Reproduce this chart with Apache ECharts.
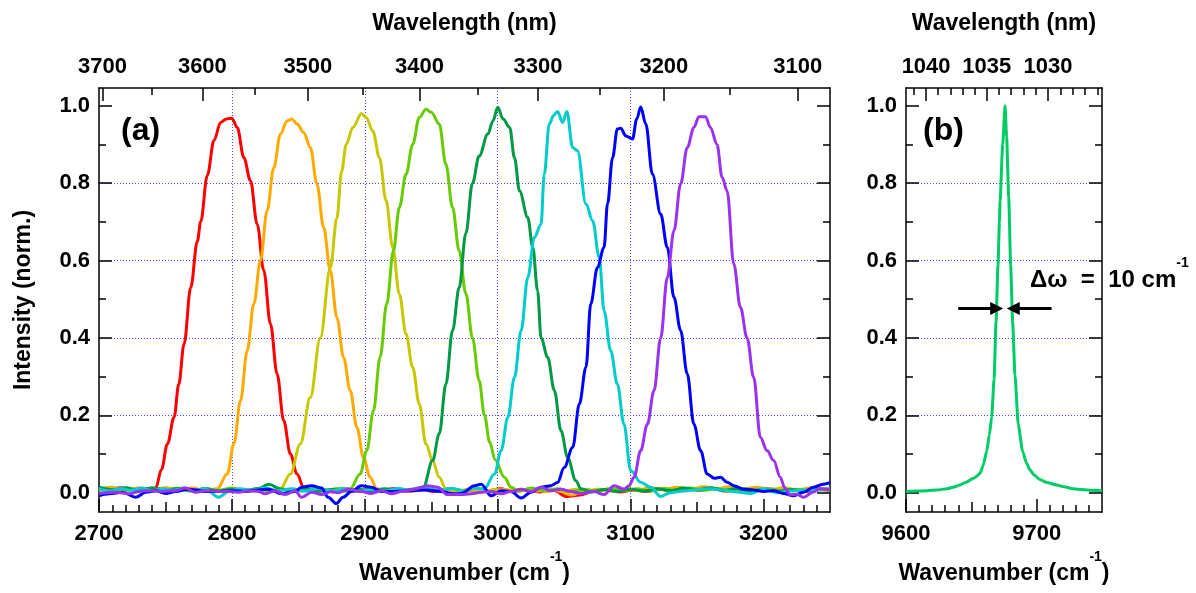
<!DOCTYPE html>
<html><head><meta charset="utf-8">
<script src="https://cdn.jsdelivr.net/npm/echarts@6/dist/echarts.min.js"></script>
<style>html,body{margin:0;padding:0;background:#fff}#c{width:1196px;height:593px}</style>
</head><body><div id="c"></div>
<script>
const FONT = '"Liberation Sans", Arial, sans-serif';

// ---- tick values ----
const aWnMajor = [2700, 2800, 2900, 3000, 3100, 3200];
const aWnMedium = [2750, 2850, 2950, 3050, 3150];
const aNmMajor = [3700, 3600, 3500, 3400, 3300, 3200, 3100];
const aNmMinor = [3650, 3550, 3450, 3350, 3250, 3150];
const bWnMajor = [9600, 9700];
const bWnMedium = [9650];
const bNmMajor = [1040, 1035, 1030];
const bNmMinor = [1041, 1039, 1038, 1037, 1036, 1034, 1033, 1032, 1031, 1029, 1028, 1027, 1026];
const yMajor = [0, 0.2, 0.4, 0.6, 0.8, 1.0];
const yMinor = [0.1, 0.3, 0.5, 0.7, 0.9];

// ---- series data, panel (a): [wavenumber, intensity] ----
const redData = [[2700,0.012],[2708,0.006],[2716,0.013],[2724,0.007],[2732,0.011],[2738,0.008],[2742.7,0.012],[2747,0.06],[2751.5,0.126],[2756.5,0.195],[2760,0.28],[2764,0.384],[2769,0.53],[2774,0.65],[2776.5,0.70],[2781.5,0.82],[2786.5,0.91],[2791.5,0.957],[2796,0.966],[2800,0.968],[2804,0.944],[2809,0.866],[2814,0.806],[2819,0.694],[2824,0.574],[2829,0.436],[2834,0.307],[2839,0.186],[2844,0.10],[2849,0.048],[2854,0.014],[2860,0.004],[2868,0.009],[2876,0.002],[2885,0.008],[2894,0.003],[2903,0.009],[2912,0.005],[2922,0.011],[2932,0.004],[2942,0.009],[2952,0.003],[2962,0.008],[2972,0.001],[2982,0.007],[2992,0.004],[3002,0.01],[3012,0.003],[3022,0.007],[3032,0.002],[3042,0.006],[3052,-0.01],[3062,-0.006],[3072,0.004],[3082,0.008],[3092,0.002],[3102,0.007],[3112,0.003],[3122,0.009],[3132,0.004],[3142,0.011],[3152,0.006],[3162,0.01],[3172,0.004],[3182,0.009],[3192,0.005],[3202,0.01],[3212,0.004],[3222,0.008],[3232,0.003],[3240,0.009],[3250,0.006]];
const orangeData = [[2700,0.009],[2710,0.014],[2720,0.006],[2730,0.012],[2740,0.008],[2750,0.013],[2760,0.007],[2770,0.012],[2780,0.006],[2789,0.01],[2796.5,0.048],[2801.5,0.126],[2806.5,0.238],[2811.5,0.367],[2816.5,0.488],[2821.5,0.60],[2826.5,0.729],[2831.5,0.84],[2836.5,0.927],[2841.5,0.961],[2845,0.966],[2849,0.953],[2854,0.931],[2859,0.892],[2864,0.797],[2869,0.686],[2874,0.574],[2879,0.453],[2884,0.35],[2889,0.264],[2894,0.169],[2899,0.091],[2904,0.04],[2909,0.01],[2916,0.004],[2925,0.01],[2935,0.003],[2945,0.009],[2955,0.004],[2965,0.011],[2975,0.005],[2985,0.009],[2995,0.002],[3005,0.008],[3015,0.004],[3025,0.01],[3035,0.003],[3045,0.007],[3055,-0.006],[3065,0.003],[3075,0.009],[3085,0.004],[3095,0.01],[3105,0.006],[3115,0.013],[3125,0.008],[3135,0.014],[3145,0.009],[3155,0.015],[3165,0.01],[3175,0.016],[3185,0.01],[3195,0.014],[3205,0.008],[3215,0.013],[3225,0.007],[3235,0.012],[3250,0.009]];
const yellowData = [[2700,0.006],[2710,0.011],[2720,0.005],[2730,0.01],[2740,0.004],[2750,0.009],[2760,0.012],[2770,0.005],[2780,0.01],[2790,0.004],[2800,0.009],[2810,0.003],[2820,0.008],[2830,0.004],[2836.5,0.01],[2844,0.048],[2851.5,0.126],[2859,0.246],[2866.5,0.40],[2874,0.58],[2879,0.71],[2882.5,0.83],[2886,0.90],[2891,0.944],[2897.5,0.98],[2901,0.97],[2906,0.935],[2911,0.866],[2916,0.755],[2921,0.634],[2926,0.513],[2931,0.41],[2936,0.324],[2941,0.229],[2946,0.126],[2951,0.083],[2956,0.04],[2961,0.01],[2968,0.003],[2978,0.009],[2988,0.002],[2998,0.008],[3008,0.003],[3018,0.009],[3028,0.004],[3038,0.01],[3048,0.003],[3058,0.008],[3068,0.002],[3078,0.009],[3088,0.004],[3098,0.01],[3108,0.005],[3118,0.011],[3128,0.006],[3138,0.012],[3148,0.007],[3158,0.013],[3168,0.008],[3178,0.012],[3188,0.006],[3198,0.011],[3208,0.005],[3218,0.01],[3228,0.004],[3238,0.009],[3250,0.005]];
const limeData = [[2700,0.01],[2710,0.004],[2720,0.011],[2730,0.005],[2740,0.012],[2750,0.006],[2760,0.01],[2770,0.004],[2780,0.011],[2790,0.006],[2800,0.012],[2810,0.005],[2820,0.01],[2830,0.003],[2840,0.009],[2850,0.004],[2860,0.01],[2870,0.005],[2880,0.011],[2889,0.01],[2896.5,0.048],[2901.5,0.109],[2906.5,0.212],[2911.5,0.35],[2916.5,0.488],[2921.5,0.625],[2926,0.737],[2931,0.823],[2936,0.90],[2941,0.97],[2946,0.991],[2950,0.983],[2956,0.953],[2961,0.849],[2966,0.737],[2971,0.625],[2976,0.515],[2981,0.40],[2986,0.29],[2990,0.2],[2994,0.13],[2998,0.085],[3005,0.04],[3010,0.014],[3016,0.004],[3025,0.012],[3035,0.005],[3045,0.01],[3055,0.003],[3065,0.009],[3075,0.004],[3085,0.011],[3095,0.005],[3105,0.01],[3115,0.004],[3125,0.011],[3135,0.006],[3145,0.012],[3155,0.006],[3165,0.01],[3175,0.004],[3185,0.011],[3195,0.005],[3205,0.01],[3215,0.004],[3225,0.009],[3235,0.005],[3250,0.01]];
const dkGreenData = [[2700,0.014],[2710,0.008],[2720,0.013],[2730,0.006],[2740,0.012],[2750,0.007],[2760,0.011],[2770,0.005],[2780,0.01],[2790,0.004],[2800,0.009],[2810,0.006],[2820,0.011],[2828,0.022],[2836,0.01],[2845,0.004],[2855,0.009],[2865,0.003],[2875,0.008],[2885,0.004],[2895,0.009],[2905,0.005],[2915,0.01],[2925,0.004],[2935,0.009],[2944,0.014],[2951,0.083],[2956,0.152],[2961,0.28],[2966,0.419],[2971,0.53],[2976,0.67],[2981,0.8],[2986,0.87],[2992.6,0.927],[2996.4,0.961],[3000,0.996],[3004,0.966],[3009,0.944],[3012.6,0.866],[3016.4,0.78],[3022.6,0.711],[3026.4,0.634],[3030,0.522],[3032.6,0.40],[3037.6,0.35],[3042.6,0.264],[3047.6,0.16],[3052.6,0.091],[3058.8,0.031],[3062.6,0.01],[3070,0.002],[3080,0.008],[3090,0.003],[3100,0.009],[3110,0.004],[3120,0.01],[3130,0.005],[3140,0.012],[3150,0.007],[3160,0.013],[3170,0.006],[3180,0.011],[3190,0.004],[3200,0.009],[3210,0.003],[3220,0.008],[3230,0.004],[3240,0.01],[3250,0.006]];
const cyanData = [[2700,0.01],[2708,0.004],[2716,0.011],[2724,0.006],[2732,0.012],[2740,0.005],[2748,0.01],[2756,0.006],[2764,0.012],[2772,0.005],[2780,0.01],[2790,-0.012],[2798,0.004],[2806,0.01],[2815,0.006],[2825,0.012],[2835,0.005],[2845,0.01],[2855,0.004],[2865,0.011],[2875,0.005],[2885,0.01],[2895,0.003],[2905,0.009],[2915,0.004],[2925,0.011],[2935,0.006],[2945,0.012],[2955,0.006],[2965,0.011],[2975,0.004],[2983,0.012],[2990,0.01],[2997.6,0.048],[3002.6,0.109],[3007.6,0.195],[3012.6,0.298],[3017.6,0.419],[3022.6,0.556],[3027.6,0.66],[3032.6,0.694],[3035,0.823],[3038.8,0.953],[3042,0.975],[3045,0.985],[3048.8,0.957],[3052,0.985],[3056.4,0.892],[3060,0.884],[3066.4,0.746],[3071.4,0.703],[3076.4,0.608],[3080,0.47],[3085,0.367],[3090,0.281],[3095,0.177],[3100,0.057],[3107.6,0.027],[3115,0.014],[3122.6,-0.01],[3130,0.0],[3140,0.004],[3150,0.008],[3160,0.01],[3170,0.006],[3180,0.002],[3190,-0.002],[3200,0.01],[3210,0.0],[3220,0.004],[3230,0.007],[3240,0.008],[3250,0.01]];
const blueData = [[2700,-0.008],[2707.7,-0.003],[2717.7,0.001],[2727.7,-0.012],[2735.2,0.001],[2742.7,0.005],[2750.1,-0.002],[2757.6,0.003],[2767.6,0.009],[2780,0.003],[2790,0.003],[2800,0.005],[2810,0.003],[2820,0.007],[2827.5,0.009],[2837.5,-0.003],[2847.5,0.003],[2852.4,0.014],[2860,0.018],[2867.4,0.012],[2872.4,-0.012],[2878.6,-0.028],[2883.6,-0.012],[2889.9,0.003],[2897.4,0.018],[2904.8,0.014],[2912.3,0.003],[2922.3,0.003],[2934.8,0.005],[2947.3,0.007],[2957.2,0.003],[2967.2,-0.003],[2972.6,-0.002],[2982.6,0.018],[2987.6,0.022],[2995,-0.008],[3002.6,0.005],[3010,0.003],[3017.6,-0.014],[3025,0.001],[3032.6,0.014],[3040,0.018],[3045,0.026],[3050,0.065],[3056.4,0.117],[3061.4,0.229],[3066.4,0.324],[3070,0.488],[3075,0.582],[3080,0.634],[3082.6,0.746],[3086.4,0.866],[3090,0.94],[3092.6,0.942],[3096.4,0.922],[3101.4,0.914],[3104.6,0.966],[3107.6,0.997],[3111.4,0.953],[3116.4,0.823],[3122.6,0.72],[3127.6,0.634],[3132.6,0.505],[3137.6,0.419],[3142.6,0.307],[3147.6,0.177],[3152.6,0.109],[3157.6,0.048],[3163,0.037],[3167.6,0.04],[3172.6,0.027],[3177.6,0.018],[3185,0.009],[3192.6,0.007],[3200,0.003],[3207.6,0.005],[3215,-0.002],[3222.6,-0.008],[3230,0.001],[3237.6,0.014],[3245,0.022],[3250,0.026]];
const purpleData = [[2700,-0.002],[2712.7,0.001],[2722.7,-0.003],[2730.2,0.003],[2737.7,0.005],[2747.7,0.003],[2757.6,0.005],[2765.1,0.012],[2772.6,0.001],[2780.1,0.005],[2790.1,0.003],[2797.6,0.003],[2805,0.001],[2812.5,0.005],[2820,0.003],[2825,-0.003],[2832.5,0.005],[2840,-0.005],[2847.5,0.005],[2852.4,-0.012],[2860,0.001],[2867.4,-0.005],[2874.9,0.003],[2879.9,0.0],[2887.4,0.009],[2897.4,0.003],[2904.8,-0.002],[2912.3,0.005],[2919.8,-0.003],[2929.8,0.005],[2937.3,0.009],[2947.3,0.018],[2954.7,0.014],[2962.2,-0.005],[2972.2,-0.005],[2980,-0.003],[2987.6,0.001],[2995,0.003],[3002.6,-0.003],[3010,0.003],[3017.6,0.009],[3025,0.003],[3032.6,0.014],[3040,0.005],[3047.6,0.009],[3055,0.003],[3062.6,-0.002],[3072.6,0.003],[3080,-0.005],[3087.6,0.018],[3095,0.009],[3098.8,0.018],[3102.6,0.04],[3107.6,0.109],[3112.6,0.177],[3117.6,0.264],[3122.6,0.40],[3127.6,0.556],[3132.6,0.677],[3137.6,0.798],[3142.6,0.892],[3147.6,0.944],[3151.4,0.972],[3156.4,0.972],[3160,0.944],[3165,0.90],[3168.8,0.815],[3172.6,0.78],[3177.6,0.591],[3182.6,0.479],[3187.6,0.40],[3192.6,0.298],[3197.6,0.143],[3202.6,0.109],[3207.6,0.083],[3212.6,0.04],[3216,0.012],[3220,-0.006],[3225,-0.004],[3230,-0.012],[3237.6,0.002],[3242,0.01],[3250,0.008]];

// ---- series data, panel (b) ----
const bData = [[9600,0.003],[9608,0.004],[9616,0.005],[9624,0.007],[9631.3,0.01],[9636,0.014],[9641.4,0.02],[9646,0.027],[9651.6,0.037],[9654,0.042],[9656.7,0.05],[9659,0.07],[9661.8,0.108],[9663.8,0.15],[9665.6,0.196],[9667.4,0.294],[9668.9,0.441],[9670.4,0.588],[9671.5,0.7],[9672,0.755],[9674,0.90],[9675.8,1.0],[9677,0.92],[9678.6,0.765],[9680.1,0.588],[9681.6,0.441],[9683.4,0.304],[9685.9,0.176],[9689.2,0.108],[9692,0.078],[9694.8,0.059],[9698,0.046],[9702.4,0.034],[9708,0.026],[9715.1,0.02],[9721,0.015],[9727.8,0.01],[9735,0.008],[9742,0.006],[9750,0.005]];
const fwhmArrows = { y: 0.476, leftTail: 9640, leftTip: 9669.4, rightTail: 9711.4, rightTip: 9682.1 };

const aSeries = [
  {name: 'red', color: '#ff0000', data: redData},
  {name: 'orange', color: '#ffaa00', data: orangeData},
  {name: 'yellow', color: '#c8c800', data: yellowData},
  {name: 'lime', color: '#66cc00', data: limeData},
  {name: 'darkgreen', color: '#009944', data: dkGreenData},
  {name: 'cyan', color: '#00cccc', data: cyanData},
  {name: 'blue', color: '#0000ff', data: blueData},
  {name: 'purple', color: '#9933ee', data: purpleData}
];

// ---- axes ----
function range(a, b, step, skipStep) {
  const out = [];
  for (let v = a; v <= b + 1e-9; v += step) {
    if (skipStep && Math.abs(v / skipStep - Math.round(v / skipStep)) < 1e-6) continue;
    out.push(v);
  }
  return out;
}
const aWnMinor = range(2710, 3240, 10, 50);
const bWnMinor = range(9610, 9740, 10, 50);
const toWn = nm => 1e7 / nm;

const lab = {fontFamily: FONT, fontWeight: 'bold', fontSize: 22, color: '#000'};
const blackLine = {color: '#000', width: 1.5};
const gridLine = {show: true, showMinLine: false, showMaxLine: false,
  lineStyle: {color: '#4444ff', width: 1, type: [1, 2]}};
const titleStyle = {fontFamily: FONT, fontWeight: 'bold', fontSize: 23, color: '#000'};
const wnRich = {
  m: {fontFamily: FONT, fontWeight: 'bold', fontSize: 23, color: '#000', lineHeight: 26, verticalAlign: 'bottom'},
  s: {fontFamily: FONT, fontWeight: 'bold', fontSize: 14, color: '#000', lineHeight: 35, verticalAlign: 'top'}
};

function tickOnly(g, pos, min, max, values, len) {
  return {type: 'value', gridIndex: g, position: pos, min, max,
    axisLine: {show: false, onZero: false},
    axisTick: {show: true, inside: true, length: len, customValues: values, lineStyle: blackLine},
    axisLabel: {show: false}, splitLine: {show: false}};
}

function xAxesFor(g, min, max, major, medium, minor, nmMajor, nmMinor) {
  return [
    {type: 'value', gridIndex: g, position: 'bottom', min, max, interval: 100,
      axisLine: {show: true, onZero: false, lineStyle: blackLine},
      axisTick: {show: true, inside: true, length: 13, customValues: major, lineStyle: blackLine},
      axisLabel: Object.assign({show: true, customValues: major, margin: 11, formatter: v => String(v)}, lab),
      splitLine: gridLine,
      name: '{m|Wavenumber (cm}{s|-1}{m|)}', nameLocation: 'middle', nameGap: 26,
      nameTextStyle: {rich: wnRich}},
    tickOnly(g, 'bottom', min, max, medium, 10),
    tickOnly(g, 'bottom', min, max, minor, 7),
    {type: 'value', gridIndex: g, position: 'top', min, max,
      axisLine: {show: true, onZero: false, lineStyle: blackLine},
      axisTick: {show: true, inside: true, length: 13, customValues: nmMajor.map(toWn), lineStyle: blackLine},
      axisLabel: Object.assign({show: true, customValues: nmMajor.map(toWn), margin: 10,
        formatter: v => String(Math.round(1e7 / v))}, lab),
      splitLine: {show: false},
      name: 'Wavelength (nm)', nameLocation: 'middle', nameGap: 53, nameTextStyle: titleStyle},
    tickOnly(g, 'top', min, max, nmMinor.map(toWn), 7)
  ];
}

function yAxesFor(g, withName) {
  const min = -0.05, max = 1.046;
  const left = {type: 'value', gridIndex: g, position: 'left', min, max,
    axisLine: {show: true, onZero: false, lineStyle: blackLine},
    axisTick: {show: true, inside: true, length: 13, customValues: yMajor, lineStyle: blackLine},
    axisLabel: Object.assign({show: true, customValues: yMajor, margin: 9, formatter: v => v.toFixed(1)}, lab),
    splitLine: gridLine};
  if (withName) {
    left.name = 'Intensity (norm.)';
    left.nameLocation = 'middle';
    left.nameGap = 64;
    left.nameRotate = 90;
    left.nameTextStyle = titleStyle;
  }
  const right = {type: 'value', gridIndex: g, position: 'right', min, max,
    axisLine: {show: true, onZero: false, lineStyle: blackLine},
    axisTick: {show: true, inside: true, length: 13, customValues: yMajor, lineStyle: blackLine},
    axisLabel: {show: false}, splitLine: {show: false}};
  return [left, tickOnly(g, 'left', min, max, yMinor, 7), right, tickOnly(g, 'right', min, max, yMinor, 7)];
}

const xAxis = [].concat(
  xAxesFor(0, 2700, 3250, aWnMajor, aWnMedium, aWnMinor, aNmMajor, aNmMinor),
  xAxesFor(1, 9600, 9750, bWnMajor, bWnMedium, bWnMinor, bNmMajor, bNmMinor)
);
const yAxis = [].concat(yAxesFor(0, true), yAxesFor(1, false));

const series = aSeries.map(s => ({
  type: 'line', name: s.name, xAxisIndex: 0, yAxisIndex: 0, data: s.data,
  symbol: 'none', showSymbol: false, smooth: 0.35, smoothMonotone: 'x',
  lineStyle: {color: s.color, width: 3}, itemStyle: {color: s.color}, animation: false
}));
series.push({
  type: 'line', name: 'b', xAxisIndex: 5, yAxisIndex: 4, data: bData,
  symbol: 'none', showSymbol: false, smooth: 0.2, smoothMonotone: 'x',
  lineStyle: {color: '#00cc66', width: 3}, itemStyle: {color: '#00cc66'}, animation: false,
  markLine: {
    silent: true, animation: false, symbol: ['none', 'triangle'], symbolSize: [13, 13],
    label: {show: false}, lineStyle: {color: '#000', width: 3, type: 'solid'},
    data: [
      [{coord: [fwhmArrows.leftTail, fwhmArrows.y]}, {coord: [fwhmArrows.leftTip, fwhmArrows.y]}],
      [{coord: [fwhmArrows.rightTail, fwhmArrows.y]}, {coord: [fwhmArrows.rightTip, fwhmArrows.y]}]
    ]
  }
});

const chart = echarts.init(document.getElementById('c'), null, {renderer: 'canvas'});
chart.setOption({
  backgroundColor: '#fff',
  animation: false,
  grid: [
    {left: 99, top: 88, width: 731, height: 424, containLabel: false},
    {left: 906, top: 88, width: 196, height: 424, containLabel: false}
  ],
  xAxis, yAxis, series,
  graphic: [
    {type: 'text', left: 121, top: 115, style: {text: '(a)', fontFamily: FONT, fontWeight: 'bold', fontSize: 32, fill: '#000'}},
    {type: 'text', left: 923, top: 115, style: {text: '(b)', fontFamily: FONT, fontWeight: 'bold', fontSize: 32, fill: '#000'}},
    {type: 'text', left: 1030, top: 256, style: {
      text: '{m|Δω  =  10 cm}{s|-1}',
      rich: {
        m: {fontFamily: FONT, fontWeight: 'bold', fontSize: 24, fill: '#000', lineHeight: 28, verticalAlign: 'bottom'},
        s: {fontFamily: FONT, fontWeight: 'bold', fontSize: 14, fill: '#000', lineHeight: 36, verticalAlign: 'top'}
      }}}
  ]
});
</script>
</body></html>
